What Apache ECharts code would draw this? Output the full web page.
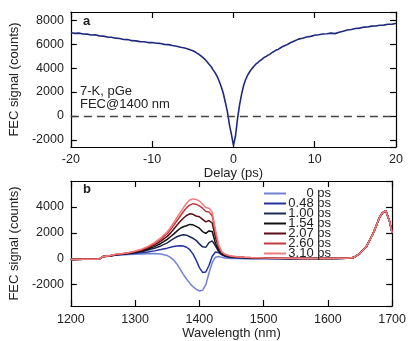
<!DOCTYPE html>
<html>
<head>
<meta charset="utf-8">
<script src="https://cdn.jsdelivr.net/npm/echarts@6/dist/echarts.min.js"></script>
<style>
html, body { margin: 0; padding: 0; background: #fff; }
#chart { width: 409px; height: 341px; }
</style>
</head>
<body>
<div id="chart"></div>
<script>
// panel a: FEC signal vs pump-probe delay
var delays = [
  -20, -19.5, -19, -18.5, -18, -17.5, -17, -16.5, -16, -15.5, -15, -14.5, -14, -13.5, -13, -12.5,
  -12, -11.5, -11, -10.5, -10, -9.5, -9, -8.5, -8, -7.5, -7, -6.5, -6,
  -5.5, -5.25, -5, -4.75, -4.5, -4.25, -4, -3.75, -3.5, -3.25, -3, -2.75, -2.5, -2.25, -2,
  -1.75, -1.5, -1.25, -1, -0.75, -0.5, -0.25, 0, 0.25, 0.5, 0.75, 1, 1.25, 1.5, 1.75, 2,
  2.25, 2.5, 2.75, 3, 3.25, 3.5, 3.75, 4, 4.25, 4.5, 4.75, 5, 5.25, 5.5,
  6, 6.5, 7, 7.5, 8, 8.5, 9, 9.5, 10, 10.5, 11, 11.5, 12, 12.5, 13, 13.5, 14, 14.5,
  15, 15.5, 16, 16.5, 17, 17.5, 18, 18.5, 19, 19.5, 20
];
var fecDelay = [
  6960, 6910, 6930, 6860, 6850, 6780, 6790, 6700, 6680, 6600, 6590, 6510, 6480, 6400, 6390, 6300,
  6280, 6220, 6210, 6140, 6140, 6080, 6070, 5990, 5970, 5890, 5840, 5750, 5690,
  5590, 5510, 5450, 5370, 5260, 5160, 5030, 4880, 4730, 4540, 4330, 4140, 3860, 3600, 3300,
  2900, 2450, 1900, 1150, 380, -700, -1550, -2450, -1700, -250, 900, 1800, 2550, 3050, 3420, 3700,
  3940, 4140, 4330, 4470, 4620, 4730, 4880, 4970, 5090, 5170, 5310, 5400, 5510, 5570,
  5790, 5930, 6130, 6280, 6430, 6500, 6610, 6660, 6750, 6790, 6860, 6880, 6930, 6890, 7010, 7090, 7190, 7230,
  7320, 7350, 7430, 7440, 7520, 7530, 7590, 7600, 7670, 7680, 7750
];

// panel b: FEC spectra at several delays
var wavelengths = [
  1200, 1220, 1240, 1245, 1250, 1255, 1260,
  1270, 1280, 1290, 1300, 1310, 1320, 1330, 1340, 1350,
  1355, 1360, 1365, 1370, 1375, 1380, 1385, 1390, 1395, 1400,
  1405, 1410, 1415, 1420, 1425, 1430, 1435, 1440, 1445, 1450,
  1460, 1470, 1480, 1500, 1520, 1540, 1560, 1580, 1600, 1620,
  1630, 1640, 1650, 1660, 1670, 1675, 1680, 1685, 1690, 1693, 1696, 1700
];
// the 1630-1700 nm peak is the same for every delay
var peakTail = [40, 90, 420, 950, 1900, 2500, 3150, 3550, 3720, 3600, 2900, 2000];

var spec0 = [
  -60, -40, -30, 0, 150, 180, 190,
  280, 300, 330, 350, 370, 390, 400, 370, 250,
  110, -100, -400, -800, -1200, -1560, -1880, -2150, -2350, -2480,
  -2430, -2000, -1100, -300, 120, 170, 110, 60, 40, 30,
  20, 10, 10, 0, -10, 0, 10, 0, 10, 20
].concat(peakTail);
var spec048 = [
  -60, -40, -30, 10, 170, 200, 210,
  300, 340, 380, 420, 470, 530, 610, 710, 820,
  890, 950, 990, 1010, 980, 890, 700, 380, -100, -680,
  -1050, -1020, -520, 200, 520, 470, 300, 180, 120, 90,
  60, 40, 30, 20, 20, 10, 20, 20, 20, 30
].concat(peakTail);
var spec100 = [
  -60, -40, -30, 10, 170, 200, 220,
  310, 350, 400, 470, 550, 670, 810, 990, 1230,
  1400, 1560, 1700, 1800, 1850, 1820, 1700, 1580, 1420, 1150,
  920, 880, 1250, 1380, 1000, 550, 330, 220, 170, 140,
  100, 70, 60, 40, 30, 20, 30, 20, 30, 30
].concat(peakTail);
var spec154 = [
  -60, -40, -30, 10, 170, 200, 220,
  320, 360, 420, 500, 600, 760, 940, 1180, 1500,
  1700, 1900, 2130, 2340, 2470, 2550, 2650, 2620, 2500, 2360,
  2100, 1960, 2150, 2100, 1200, 620, 360, 250, 200, 160,
  120, 90, 70, 50, 40, 30, 30, 30, 30, 40
].concat(peakTail);
var spec207 = [
  -60, -40, -30, 10, 170, 200, 220,
  330, 370, 440, 540, 660, 840, 1060, 1360, 1730,
  1980, 2280, 2580, 2880, 3130, 3340, 3470, 3430, 3300, 3240,
  3040, 2850, 2950, 2760, 1650, 820, 440, 300, 230, 180,
  130, 100, 80, 60, 40, 30, 30, 30, 30, 40
].concat(peakTail);
var spec260 = [
  -60, -40, -30, 10, 170, 200, 230,
  340, 380, 460, 570, 700, 900, 1160, 1500, 1930,
  2230, 2580, 2930, 3280, 3630, 3940, 4140, 4250, 4200, 4080,
  3900, 3650, 3620, 3300, 2050, 980, 500, 330, 250, 200,
  140, 110, 90, 70, 50, 40, 30, 30, 30, 40
].concat(peakTail);
var spec310 = [
  -60, -40, -30, 10, 180, 210, 240,
  350, 400, 480, 600, 740, 960, 1240, 1620, 2080,
  2400, 2780, 3180, 3560, 3930, 4280, 4540, 4620, 4580, 4450,
  4200, 3950, 3900, 3600, 2250, 1080, 540, 360, 270, 210,
  150, 120, 100, 70, 50, 40, 30, 30, 30, 40
].concat(peakTail);

var specLabels = ['0 ps', '0.48 ps', '1.00 ps', '1.54 ps', '2.07 ps', '2.60 ps', '3.10 ps'];
var specData = [spec0, spec048, spec100, spec154, spec207, spec260, spec310];
var specColors = ['#7282d2', '#24339e', '#1d2b52', '#111111', '#5c0c14', '#c23a3c', '#f27c7c'];

var FONT = '"Liberation Sans", Arial, sans-serif';
var myChart = echarts.init(document.getElementById('chart'));

function pairs(xs, ys) {
  return xs.map(function (x, i) { return [x, ys[i]]; });
}

// one axis of the box frame; ticks point inward on every side
function frameAxis(gridIndex, position, showLabel, extra) {
  var ax = {
    gridIndex: gridIndex,
    type: 'value',
    position: position,
    axisLine: { show: true, onZero: false, lineStyle: { color: '#000', width: 1.2 } },
    axisTick: { show: true, inside: true, length: 6, lineStyle: { color: '#000', width: 1.2 } },
    axisLabel: {
      show: showLabel, color: '#222', fontSize: 12.5, fontFamily: FONT,
      margin: 7, showMinLabel: false, showMaxLabel: false,
      formatter: function (v) { return String(v); }
    },
    splitLine: { show: false },
    nameTextStyle: { color: '#222', fontSize: 13, fontFamily: FONT }
  };
  return Object.assign(ax, extra);
}

var series = [{
  type: 'line',
  xAxisIndex: 0, yAxisIndex: 0,
  data: pairs(delays, fecDelay),
  showSymbol: false,
  lineStyle: { color: '#1f2a7c', width: 1.6 },
  markLine: {
    silent: true, symbol: 'none', label: { show: false },
    lineStyle: { color: '#444', width: 1.3, type: [8, 5] },
    data: [{ yAxis: 0 }]
  }
}];
specLabels.forEach(function (name, i) {
  series.push({
    type: 'line',
    name: name,
    xAxisIndex: 2, yAxisIndex: 2,
    data: pairs(wavelengths, specData[i]),
    showSymbol: false,
    color: specColors[i],
    lineStyle: { color: specColors[i], width: 1.5 }
  });
});

var xLabel = { show: true, color: '#222', fontSize: 12.5, fontFamily: FONT, margin: 6,
  formatter: function (v) { return String(v); } };

myChart.setOption({
  animation: false,
  backgroundColor: '#fff',
  textStyle: { fontFamily: FONT },
  grid: [
    { left: 70, right: 13, top: 12, height: 135 },
    { left: 70, right: 13, top: 181, height: 134 }
  ],
  xAxis: [
    frameAxis(0, 'bottom', true, {
      min: -20, max: 20, interval: 10, name: 'Delay (ps)', nameLocation: 'middle', nameGap: 15,
      axisLabel: xLabel
    }),
    frameAxis(0, 'top', false, { min: -20, max: 20, interval: 10 }),
    frameAxis(1, 'bottom', true, {
      min: 1200, max: 1700, interval: 100, name: 'Wavelength (nm)', nameLocation: 'middle', nameGap: 18,
      axisLabel: Object.assign({}, xLabel, { margin: 7 })
    }),
    frameAxis(1, 'top', false, { min: 1200, max: 1700, interval: 100 })
  ],
  yAxis: [
    frameAxis(0, 'left', true, {
      min: -2600, max: 8700, splitNumber: 5,
      name: 'FEC signal (counts)', nameLocation: 'middle', nameGap: 43
    }),
    frameAxis(0, 'right', false, { min: -2600, max: 8700, splitNumber: 5 }),
    frameAxis(1, 'left', true, {
      min: -3650, max: 6000, splitNumber: 5,
      name: 'FEC signal (counts)', nameLocation: 'middle', nameGap: 43
    }),
    frameAxis(1, 'right', false, { min: -3650, max: 6000, splitNumber: 5 })
  ],
  legend: {
    orient: 'vertical',
    left: 259, top: 182,
    icon: 'rect', itemWidth: 22, itemHeight: 2, itemGap: -3,
    data: specLabels,
    formatter: function (n) { return '{t|' + n + '}'; },
    textStyle: {
      color: '#222', fontSize: 13, lineHeight: 9.8, fontFamily: FONT,
      rich: { t: { width: 40, align: 'right', fontSize: 13, lineHeight: 9.8, fontFamily: FONT } }
    }
  },
  graphic: [
    { type: 'text', left: 83, top: 15, style: { text: 'a', font: 'bold 13px ' + FONT, fill: '#222' } },
    { type: 'text', left: 83, top: 183, style: { text: 'b', font: 'bold 13px ' + FONT, fill: '#222' } },
    { type: 'text', left: 80, top: 85, style: { text: '7-K, pGe', font: '13px ' + FONT, fill: '#222' } },
    { type: 'text', left: 80, top: 97.5, style: { text: 'FEC@1400 nm', font: '13px ' + FONT, fill: '#222' } }
  ],
  series: series
});
</script>
</body>
</html>
